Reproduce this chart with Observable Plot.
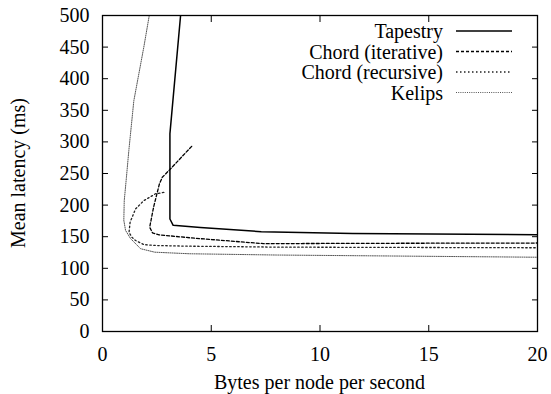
<!DOCTYPE html>
<html>
<head>
<meta charset="utf-8">
<script src="https://cdn.jsdelivr.net/npm/d3@7"></script>
<script src="https://cdn.jsdelivr.net/npm/@observablehq/plot@0.6"></script>
<style>
  body { margin: 0; background: #fff; }
  svg text, svg tspan { font-family: "Liberation Serif", "DejaVu Serif", serif !important; }
</style>
</head>
<body>
<div id="chart"></div>
<script>
// Axis ticks
const xTicks = [0, 5, 10, 15, 20];
const yTicks = [0, 50, 100, 150, 200, 250, 300, 350, 400, 450, 500];

// Series names, in legend order
const seriesNames = ["Tapestry", "Chord (iterative)", "Chord (recursive)", "Kelips"];

// Bandwidth (bytes/node/s) vs mean latency (ms) for each protocol
const tapestryX = [3.59, 3.1, 3.1, 3.25, 4.5, 7.3, 11.5, 20];
const tapestryY = [500, 313, 178, 168, 164.5, 158, 155, 153];

const chordIterX = [4.1, 3.2, 2.75, 2.62, 2.35, 2.17, 2.3, 2.6, 4.1, 7.4, 12, 20];
const chordIterY = [293, 260, 244, 234, 197, 165, 156, 153, 148, 139, 139.5, 140];

const chordRecX = [2.82, 2.44, 1.9, 1.52, 1.27, 1.22, 1.35, 1.52, 1.9, 2.5, 4.0, 8, 20];
const chordRecY = [220, 218, 207, 194, 173, 157, 149, 144, 137.5, 136, 135, 133.5, 132.5];

const kelipsX = [2.15, 1.9, 1.44, 1.21, 1.1, 1.0, 0.98, 1.06, 1.29, 1.75, 2.4, 4.0, 8, 20];
const kelipsY = [500, 450, 365, 286, 244, 207, 176, 160, 147, 131, 125.5, 123, 121, 117.5];

const seriesX = [tapestryX, chordIterX, chordRecX, kelipsX];
const seriesY = [tapestryY, chordIterY, chordRecY, kelipsY];

// Line styles, gnuplot-like
const lineStyles = [
  { stroke: "#000", strokeWidth: 1.5, strokeDasharray: null },
  { stroke: "#000", strokeWidth: 1.3, strokeDasharray: "3,2" },
  { stroke: "#222", strokeWidth: 1.3, strokeDasharray: "1.5,2.5" },
  { stroke: "#555", strokeWidth: 1, strokeDasharray: "1,1.2" }
];

const rows = seriesNames.flatMap((name, i) =>
  seriesX[i].map((x, j) => ({ series: name, x, y: seriesY[i][j] }))
);

const W = 551, H = 394;
const margin = { top: 15, right: 14, bottom: 63, left: 102 };
const serif = "Liberation Serif";

const chart = Plot.plot({
  width: W,
  height: H,
  marginTop: margin.top,
  marginRight: margin.right,
  marginBottom: margin.bottom,
  marginLeft: margin.left,
  x: { domain: [0, 20] },
  y: { domain: [0, 500] },
  style: { fontFamily: serif, fontSize: "20px", color: "#000", background: "#fff", overflow: "visible" },
  marks: [
    ...seriesNames.map((name, i) =>
      Plot.line(rows.filter(d => d.series === name), {
        x: "x", y: "y",
        stroke: lineStyles[i].stroke,
        strokeWidth: lineStyles[i].strokeWidth,
        strokeDasharray: lineStyles[i].strokeDasharray,
        clip: true
      })
    ),
    Plot.axisX({ ticks: xTicks, anchor: "bottom", tickSize: -6, tickPadding: 21, label: null, fontSize: 20, fontFamily: serif }),
    Plot.axisX({ ticks: xTicks, anchor: "top", tickSize: -6, tickFormat: () => "", label: null }),
    Plot.axisY({ ticks: yTicks, anchor: "left", tickSize: -6, tickPadding: 19, label: null, fontSize: 20, fontFamily: serif }),
    Plot.axisY({ ticks: yTicks, anchor: "right", tickSize: -6, tickFormat: () => "", label: null }),
    Plot.frame({ stroke: "#000", strokeWidth: 1.3 })
  ]
});

document.getElementById("chart").appendChild(chart);

// Axis titles and key
const svg = d3.select(chart);

svg.append("text")
  .attr("transform", `translate(18,${(margin.top + H - margin.bottom) / 2}) rotate(-90)`)
  .attr("text-anchor", "middle")
  .attr("dominant-baseline", "central")
  .attr("font-family", serif)
  .attr("font-size", 20)
  .attr("fill", "#000")
  .text("Mean latency (ms)");

svg.append("text")
  .attr("x", (margin.left + W - margin.right) / 2)
  .attr("y", 382)
  .attr("text-anchor", "middle")
  .attr("dominant-baseline", "central")
  .attr("font-family", serif)
  .attr("font-size", 20)
  .attr("fill", "#000")
  .text("Bytes per node per second");

const key = svg.append("g");
const keyRowY = [31, 51.5, 72, 92.5];
seriesNames.forEach((name, i) => {
  key.append("text")
    .attr("x", 443)
    .attr("y", keyRowY[i])
    .attr("text-anchor", "end")
    .attr("dominant-baseline", "central")
    .attr("font-family", serif)
    .attr("font-size", 20)
    .attr("fill", "#000")
    .text(name);
  key.append("line")
    .attr("x1", 456).attr("x2", 512)
    .attr("y1", keyRowY[i]).attr("y2", keyRowY[i])
    .attr("stroke", lineStyles[i].stroke)
    .attr("stroke-width", lineStyles[i].strokeWidth)
    .attr("stroke-dasharray", lineStyles[i].strokeDasharray);
});
</script>
</body>
</html>
